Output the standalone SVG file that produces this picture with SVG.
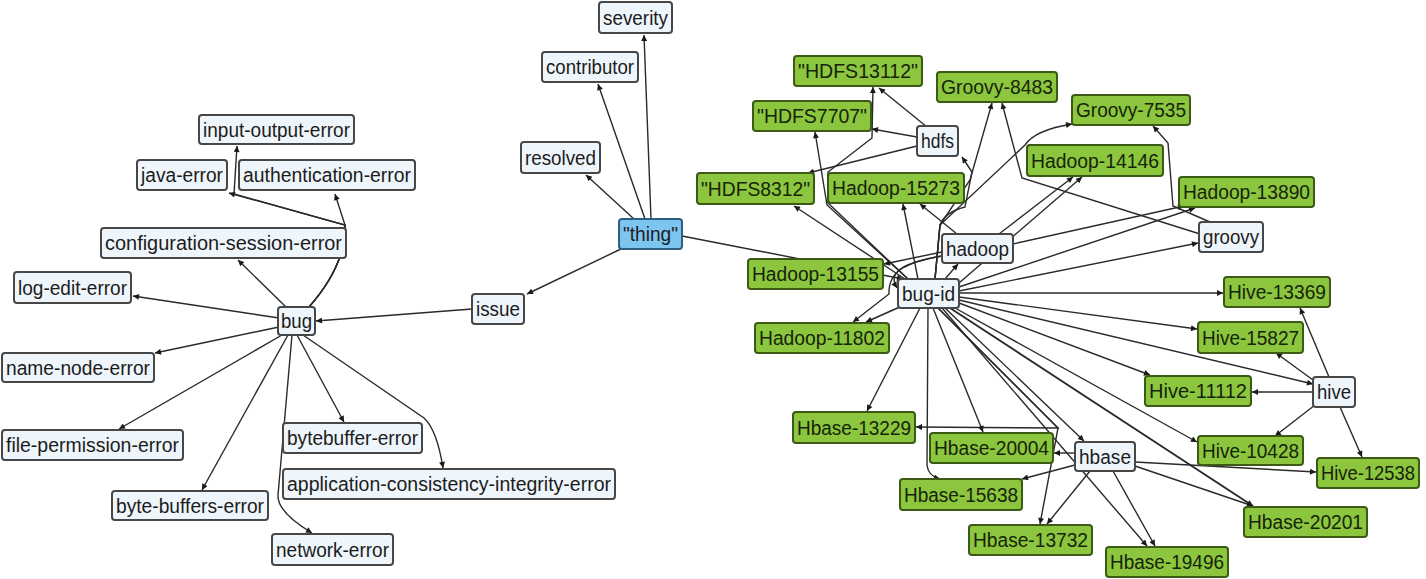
<svg xmlns="http://www.w3.org/2000/svg" width="1426" height="579" viewBox="0 0 1426 579">
<style>
.w rect{fill:#eef5fb;stroke:#474747;stroke-width:2}
.g rect{fill:#8cc63e;stroke:#3b5a14;stroke-width:2}
.b rect{fill:#7cc5f0;stroke:#2f5f80;stroke-width:2}
text{font-family:"Liberation Sans",Arial,sans-serif;font-size:20px;fill:#1c1c1c;text-anchor:middle}
.g text{fill:#16240a}
#edges path{fill:none;stroke:#2a2a2a;stroke-width:1.4;marker-end:url(#ah)}
</style>
<defs>
<marker id="ah" viewBox="0 0 10 10" refX="10" refY="5" markerWidth="8" markerHeight="6" orient="auto" markerUnits="userSpaceOnUse"><path d="M0,0 L10,5 L0,10 z" fill="#1a1a1a"/></marker>
</defs>
<rect width="1426" height="579" fill="#ffffff"/>
<g id="edges">
<path d="M621,249 L527,294"/>
<path d="M472,309 L316,321"/>
<path d="M634,219 L586,175"/>
<path d="M645,219 L598,84"/>
<path d="M651,219 L644,35"/>
<path d="M682,236 L903,279"/>
<path d="M279,318 L133,296"/>
<path d="M286,307 L238,260"/>
<path d="M309,307 Q346,265 345,225 L229,193"/>
<path d="M309,307 Q346,265 345,225 L234,194 L237,146"/>
<path d="M309,307 Q346,265 345,225 L335,194"/>
<path d="M279,327 L155,353"/>
<path d="M282,335 L119,429"/>
<path d="M288,335 L202,490"/>
<path d="M292,335 L278,495 Q277,512 312,533"/>
<path d="M297,335 L344,422"/>
<path d="M303,335 L424,418 Q437,430 443,468"/>
<path d="M905,279 L794,206"/>
<path d="M908,279 L827,205 L815,132"/>
<path d="M908,279 L828,203 L828,172 L872,138 L873,87"/>
<path d="M927,127 L879,88"/>
<path d="M917,137 L872,129"/>
<path d="M917,146 L808,173"/>
<path d="M918,279 L903,204"/>
<path d="M957,234 L920,204"/>
<path d="M935,279 L940,225 Q945,212 965,207 L972,172 L962,157"/>
<path d="M935,279 L940,225 L970,180 L992,103"/>
<path d="M1200,234 L1022,178 L1002,103"/>
<path d="M935,279 L940,225 L1025,145 Q1035,130 1072,124"/>
<path d="M945,279 L958,264"/>
<path d="M999,234 L1073,177"/>
<path d="M959,283 L1082,177"/>
<path d="M1013,244 L1184,206"/>
<path d="M959,287 L1195,208"/>
<path d="M1210,222 L1173,206 L1168,143 L1153,126"/>
<path d="M959,291 L1198,243"/>
<path d="M959,293 L1223,293"/>
<path d="M959,297 L1197,329"/>
<path d="M959,300 L1313,384"/>
<path d="M959,303 L1150,375"/>
<path d="M955,308 L1197,442"/>
<path d="M950,308 L1253,506" style="stroke-width:1.9"/>
<path d="M945,308 L1084,441"/>
<path d="M942,308 L1147,546"/>
<path d="M938,308 L1058,428 L1040,524"/>
<path d="M938,308 L1058,428 L916,427"/>
<path d="M920,308 L867,411"/>
<path d="M928,308 L927,465 Q928,476 940,479"/>
<path d="M933,308 L983,432"/>
<path d="M1075,453 L1054,453"/>
<path d="M1075,465 L1022,479"/>
<path d="M1090,471 L1047,524"/>
<path d="M1113,471 L1155,546"/>
<path d="M1135,466 L1253,506"/>
<path d="M1135,462 L1316,472"/>
<path d="M1329,377 L1300,308"/>
<path d="M1313,380 L1276,353"/>
<path d="M1313,392 L1252,392"/>
<path d="M1315,405 L1275,436"/>
<path d="M1340,407 L1362,457"/>
<path d="M942,252 L884,264"/>
<path d="M942,256 C908,262 888,270 889,294 L853,322"/>
<path d="M942,256 C908,262 886,270 897,288"/>
<path d="M902,306 L866,322"/>
</g>
<g id="n_input_output" class="w"><rect x="199" y="115" width="155" height="29" rx="3"/><text x="276.5" y="136.5" textLength="147" lengthAdjust="spacingAndGlyphs">input-output-error</text></g>
<g id="n_java" class="w"><rect x="137" y="160" width="90" height="30" rx="3"/><text x="182" y="182" textLength="82" lengthAdjust="spacingAndGlyphs">java-error</text></g>
<g id="n_auth" class="w"><rect x="239" y="160" width="176" height="30" rx="3"/><text x="327" y="182" textLength="168" lengthAdjust="spacingAndGlyphs">authentication-error</text></g>
<g id="n_config" class="w"><rect x="101" y="228" width="245" height="30" rx="3"/><text x="223.5" y="250" textLength="237" lengthAdjust="spacingAndGlyphs">configuration-session-error</text></g>
<g id="n_logedit" class="w"><rect x="14" y="272" width="117" height="31" rx="3"/><text x="72.5" y="294.5" textLength="109" lengthAdjust="spacingAndGlyphs">log-edit-error</text></g>
<g id="n_bug" class="w"><rect x="278" y="307" width="37" height="28" rx="3"/><text x="296.5" y="328" textLength="31" lengthAdjust="spacingAndGlyphs">bug</text></g>
<g id="n_namenode" class="w"><rect x="2" y="353" width="152" height="29" rx="3"/><text x="78" y="374.5" textLength="144" lengthAdjust="spacingAndGlyphs">name-node-error</text></g>
<g id="n_fileperm" class="w"><rect x="2" y="430" width="181" height="30" rx="3"/><text x="92.5" y="452" textLength="173" lengthAdjust="spacingAndGlyphs">file-permission-error</text></g>
<g id="n_bytebuffers" class="w"><rect x="112" y="491" width="156" height="29" rx="3"/><text x="190" y="512.5" textLength="148" lengthAdjust="spacingAndGlyphs">byte-buffers-error</text></g>
<g id="n_network" class="w"><rect x="272" y="534" width="121" height="31" rx="3"/><text x="332.5" y="556.5" textLength="113" lengthAdjust="spacingAndGlyphs">network-error</text></g>
<g id="n_bytebuffer" class="w"><rect x="283" y="423" width="139" height="30" rx="3"/><text x="352.5" y="445" textLength="131" lengthAdjust="spacingAndGlyphs">bytebuffer-error</text></g>
<g id="n_appcons" class="w"><rect x="283" y="469" width="332" height="30" rx="3"/><text x="449" y="491" textLength="324" lengthAdjust="spacingAndGlyphs">application-consistency-integrity-error</text></g>
<g id="n_issue" class="w"><rect x="472" y="294" width="52" height="30" rx="3"/><text x="498" y="316" textLength="44" lengthAdjust="spacingAndGlyphs">issue</text></g>
<g id="n_thing" class="b"><rect x="619" y="219" width="63" height="30" rx="3"/><text x="650.5" y="241" textLength="55" lengthAdjust="spacingAndGlyphs">"thing"</text></g>
<g id="n_resolved" class="w"><rect x="521" y="142" width="79" height="31" rx="3"/><text x="560.5" y="164.5" textLength="71" lengthAdjust="spacingAndGlyphs">resolved</text></g>
<g id="n_contributor" class="w"><rect x="542" y="52" width="96" height="30" rx="3"/><text x="590" y="74" textLength="88" lengthAdjust="spacingAndGlyphs">contributor</text></g>
<g id="n_severity" class="w"><rect x="599" y="2" width="73" height="31" rx="3"/><text x="635.5" y="24.5" textLength="65" lengthAdjust="spacingAndGlyphs">severity</text></g>
<g id="n_hdfs13112" class="g"><rect x="794" y="56" width="128" height="30" rx="3"/><text x="858" y="78" textLength="120" lengthAdjust="spacingAndGlyphs">"HDFS13112"</text></g>
<g id="n_hdfs7707" class="g"><rect x="753" y="101" width="118" height="30" rx="3"/><text x="812" y="123" textLength="110" lengthAdjust="spacingAndGlyphs">"HDFS7707"</text></g>
<g id="n_hdfs8312" class="g"><rect x="697" y="173" width="117" height="31" rx="3"/><text x="755.5" y="195.5" textLength="109" lengthAdjust="spacingAndGlyphs">"HDFS8312"</text></g>
<g id="n_hadoop15273" class="g"><rect x="828" y="173" width="136" height="30" rx="3"/><text x="896" y="195" textLength="128" lengthAdjust="spacingAndGlyphs">Hadoop-15273</text></g>
<g id="n_groovy8483" class="g"><rect x="937" y="72" width="120" height="30" rx="3"/><text x="997" y="94" textLength="112" lengthAdjust="spacingAndGlyphs">Groovy-8483</text></g>
<g id="n_hdfs" class="w"><rect x="917" y="126" width="41" height="30" rx="3"/><text x="937.5" y="148" textLength="33" lengthAdjust="spacingAndGlyphs">hdfs</text></g>
<g id="n_hadoop" class="w"><rect x="942" y="234" width="71" height="29" rx="3"/><text x="977.5" y="255.5" textLength="63" lengthAdjust="spacingAndGlyphs">hadoop</text></g>
<g id="n_hadoop13155" class="g"><rect x="748" y="259" width="135" height="30" rx="3"/><text x="815.5" y="281" textLength="127" lengthAdjust="spacingAndGlyphs">Hadoop-13155</text></g>
<g id="n_bugid" class="w"><rect x="898" y="279" width="61" height="29" rx="3"/><text x="928.5" y="300.5" textLength="53" lengthAdjust="spacingAndGlyphs">bug-id</text></g>
<g id="n_hadoop11802" class="g"><rect x="755" y="323" width="134" height="30" rx="3"/><text x="822" y="345" textLength="126" lengthAdjust="spacingAndGlyphs">Hadoop-11802</text></g>
<g id="n_groovy7535" class="g"><rect x="1072" y="95" width="118" height="30" rx="3"/><text x="1131" y="117" textLength="110" lengthAdjust="spacingAndGlyphs">Groovy-7535</text></g>
<g id="n_hadoop14146" class="g"><rect x="1027" y="145" width="136" height="31" rx="3"/><text x="1095" y="167.5" textLength="128" lengthAdjust="spacingAndGlyphs">Hadoop-14146</text></g>
<g id="n_hadoop13890" class="g"><rect x="1179" y="177" width="135" height="30" rx="3"/><text x="1246.5" y="199" textLength="127" lengthAdjust="spacingAndGlyphs">Hadoop-13890</text></g>
<g id="n_groovy" class="w"><rect x="1199" y="222" width="64" height="30" rx="3"/><text x="1231" y="244" textLength="56" lengthAdjust="spacingAndGlyphs">groovy</text></g>
<g id="n_hive13369" class="g"><rect x="1224" y="277" width="106" height="30" rx="3"/><text x="1277" y="299" textLength="98" lengthAdjust="spacingAndGlyphs">Hive-13369</text></g>
<g id="n_hive15827" class="g"><rect x="1198" y="322" width="105" height="31" rx="3"/><text x="1250.5" y="344.5" textLength="97" lengthAdjust="spacingAndGlyphs">Hive-15827</text></g>
<g id="n_hive11112" class="g"><rect x="1145" y="376" width="106" height="30" rx="3"/><text x="1198" y="398" textLength="98" lengthAdjust="spacingAndGlyphs">Hive-11112</text></g>
<g id="n_hive" class="w"><rect x="1313" y="377" width="42" height="30" rx="3"/><text x="1334" y="399" textLength="34" lengthAdjust="spacingAndGlyphs">hive</text></g>
<g id="n_hive10428" class="g"><rect x="1198" y="436" width="105" height="29" rx="3"/><text x="1250.5" y="457.5" textLength="97" lengthAdjust="spacingAndGlyphs">Hive-10428</text></g>
<g id="n_hive12538" class="g"><rect x="1317" y="458" width="102" height="30" rx="3"/><text x="1368" y="480" textLength="94" lengthAdjust="spacingAndGlyphs">Hive-12538</text></g>
<g id="n_hbase13229" class="g"><rect x="793" y="412" width="122" height="31" rx="3"/><text x="854" y="434.5" textLength="114" lengthAdjust="spacingAndGlyphs">Hbase-13229</text></g>
<g id="n_hbase20004" class="g"><rect x="930" y="433" width="123" height="30" rx="3"/><text x="991.5" y="455" textLength="115" lengthAdjust="spacingAndGlyphs">Hbase-20004</text></g>
<g id="n_hbase" class="w"><rect x="1075" y="442" width="60" height="29" rx="3"/><text x="1105" y="463.5" textLength="52" lengthAdjust="spacingAndGlyphs">hbase</text></g>
<g id="n_hbase15638" class="g"><rect x="900" y="479" width="122" height="31" rx="3"/><text x="961" y="501.5" textLength="114" lengthAdjust="spacingAndGlyphs">Hbase-15638</text></g>
<g id="n_hbase13732" class="g"><rect x="969" y="525" width="123" height="30" rx="3"/><text x="1030.5" y="547" textLength="115" lengthAdjust="spacingAndGlyphs">Hbase-13732</text></g>
<g id="n_hbase19496" class="g"><rect x="1106" y="547" width="122" height="30" rx="3"/><text x="1167" y="569" textLength="114" lengthAdjust="spacingAndGlyphs">Hbase-19496</text></g>
<g id="n_hbase20201" class="g"><rect x="1244" y="507" width="123" height="30" rx="3"/><text x="1305.5" y="529" textLength="115" lengthAdjust="spacingAndGlyphs">Hbase-20201</text></g>
</svg>
